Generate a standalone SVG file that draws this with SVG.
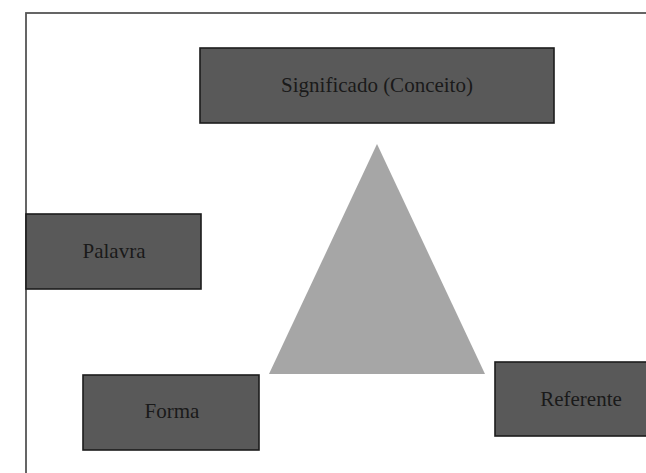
<svg xmlns="http://www.w3.org/2000/svg" width="646" height="473" viewBox="0 0 646 473">
<style>
.box{fill:#595959;stroke:#1c1c1c;stroke-width:1.6}
.lbl{font-family:"Liberation Serif","Times New Roman",serif;font-size:21px;fill:#1a1a1a;text-anchor:middle}
</style>
<rect x="0" y="0" width="646" height="473" fill="#ffffff"/>
<rect id="frame" x="26" y="13" width="640" height="480" fill="none" stroke="#555555" stroke-width="1.8"/>
<g id="connectors"></g>
<g id="triangle"><polygon points="377,144 269,374 485,374" fill="#a6a6a6"/></g>
<g id="significado"><rect class="box" x="200" y="48" width="354" height="75"/><text class="lbl" x="377" y="92">Significado (Conceito)</text></g>
<g id="palavra"><rect class="box" x="26" y="214" width="175" height="75"/><text class="lbl" x="114" y="258">Palavra</text></g>
<g id="forma"><rect class="box" x="83" y="375" width="176" height="75"/><text class="lbl" x="172" y="418">Forma</text></g>
<g id="referente"><rect class="box" x="495" y="362" width="172" height="74"/><text class="lbl" x="581" y="406">Referente</text></g>
</svg>
